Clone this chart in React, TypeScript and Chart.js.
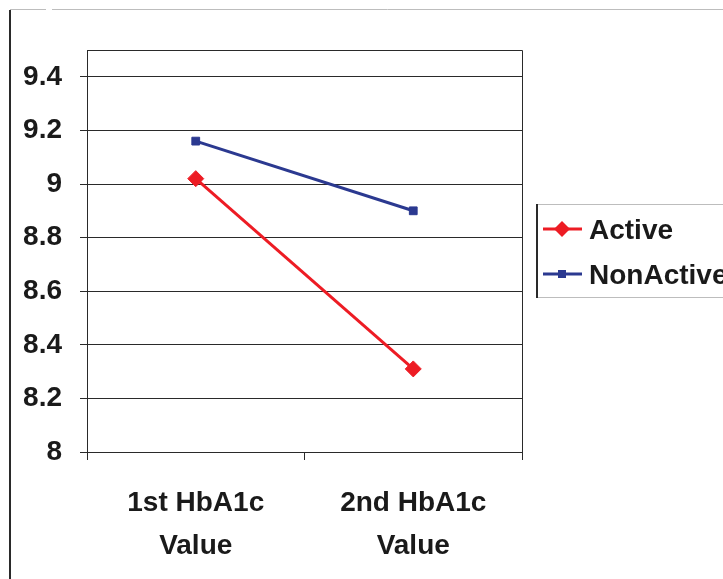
import React, { useEffect, useRef } from "react";
import { Chart, registerables } from "chart.js";

Chart.register(...registerables);

const categories: string[][] = [["1st HbA1c", "Value"], ["2nd HbA1c", "Value"]];
const activeValues: number[] = [9.02, 8.31];
const nonActiveValues: number[] = [9.16, 8.9];
const seriesNames: string[] = ["Active", "NonActive"];
const yMin = 8;
const yMax = 9.5;
const yStep = 0.2;

const FONT_FAMILY = '"Liberation Sans", Arial, sans-serif';
const FONT_SIZE = 28;
const RED = "#ED1C24";
const BLUE = "#2B3990";
const DARK = "#2a2a2a";

const framePlugin = {
  id: "framePlugin",
  afterDraw(chart: any) {
    const ctx = chart.ctx as CanvasRenderingContext2D;
    const a = chart.chartArea;
    ctx.save();
    // plot area border (top and right)
    ctx.strokeStyle = DARK;
    ctx.lineWidth = 1;
    ctx.beginPath();
    ctx.moveTo(Math.round(a.left) + 0.5, Math.round(a.top) + 0.5);
    ctx.lineTo(Math.round(a.right) + 0.5, Math.round(a.top) + 0.5);
    ctx.lineTo(Math.round(a.right) + 0.5, Math.round(a.bottom) + 0.5);
    ctx.stroke();

    // outer frame
    ctx.strokeStyle = "#bdbdbd";
    ctx.beginPath();
    ctx.moveTo(10, 9.5);
    ctx.lineTo(46, 9.5);
    ctx.moveTo(52, 9.5);
    ctx.lineTo(723, 9.5);
    ctx.stroke();
    ctx.strokeStyle = DARK;
    ctx.lineWidth = 2;
    ctx.beginPath();
    ctx.moveTo(10, 10);
    ctx.lineTo(10, 579);
    ctx.stroke();

    // legend box
    const lx = 537;
    const ly = 204;
    const lb = 297;
    ctx.strokeStyle = "#bdbdbd";
    ctx.lineWidth = 1;
    ctx.beginPath();
    ctx.moveTo(lx, ly + 0.5);
    ctx.lineTo(723, ly + 0.5);
    ctx.moveTo(lx, lb + 0.5);
    ctx.lineTo(723, lb + 0.5);
    ctx.stroke();
    ctx.strokeStyle = DARK;
    ctx.lineWidth = 2;
    ctx.beginPath();
    ctx.moveTo(lx, ly);
    ctx.lineTo(lx, lb + 1);
    ctx.stroke();

    const items = [
      { name: seriesNames[0], color: RED, y: 229, style: "diamond" },
      { name: seriesNames[1], color: BLUE, y: 274, style: "square" },
    ];
    for (const it of items) {
      ctx.strokeStyle = it.color;
      ctx.fillStyle = it.color;
      ctx.lineWidth = 3;
      ctx.beginPath();
      ctx.moveTo(543, it.y);
      ctx.lineTo(582, it.y);
      ctx.stroke();
      if (it.style === "diamond") {
        ctx.beginPath();
        ctx.moveTo(562, it.y - 8);
        ctx.lineTo(570, it.y);
        ctx.lineTo(562, it.y + 8);
        ctx.lineTo(554, it.y);
        ctx.closePath();
        ctx.fill();
      } else {
        ctx.fillRect(558, it.y - 4, 8, 8);
      }
      ctx.fillStyle = "#1a1a1a";
      ctx.font = `bold ${FONT_SIZE}px ${FONT_FAMILY}`;
      ctx.textAlign = "left";
      ctx.textBaseline = "middle";
      ctx.fillText(it.name, 589, it.y + 2);
    }
    ctx.restore();
  },
};

export default function App() {
  const canvasRef = useRef<HTMLCanvasElement | null>(null);

  useEffect(() => {
    const canvas = canvasRef.current;
    if (!canvas) return;
    const chart = new Chart(canvas, {
      type: "line",
      data: {
        labels: categories as any,
        datasets: [
          {
            label: seriesNames[0],
            data: activeValues,
            borderColor: RED,
            backgroundColor: RED,
            borderWidth: 3,
            pointStyle: "rectRot",
            pointRadius: 8,
            pointBorderWidth: 1,
            pointBackgroundColor: RED,
            pointBorderColor: RED,
            tension: 0,
          },
          {
            label: seriesNames[1],
            data: nonActiveValues,
            borderColor: BLUE,
            backgroundColor: BLUE,
            borderWidth: 3,
            pointStyle: "rect",
            pointRadius: 5.5,
            pointBorderWidth: 1,
            pointBackgroundColor: BLUE,
            pointBorderColor: BLUE,
            tension: 0,
          },
        ],
      },
      options: {
        animation: false,
        responsive: false,
        devicePixelRatio: 1,
        layout: { padding: { top: 50, right: 201, left: 0, bottom: 0 } },
        plugins: {
          legend: { display: false },
          tooltip: { enabled: false },
        },
        scales: {
          x: {
            type: "category",
            offset: true,
            grid: {
              offset: true,
              drawOnChartArea: false,
              drawTicks: true,
              tickLength: 8,
              color: DARK,
            },
            border: { display: true, color: DARK, width: 1 },
            ticks: {
              color: "#1a1a1a",
              font: { family: FONT_FAMILY, size: FONT_SIZE, weight: "bold", lineHeight: 1.54 },
              padding: 22,
              maxRotation: 0,
              autoSkip: false,
            },
            afterFit: (scale: any) => {
              scale.height = 127;
            },
          },
          y: {
            type: "linear",
            min: yMin,
            max: yMax,
            grid: {
              color: DARK,
              drawTicks: true,
              tickLength: 7,
            },
            border: { display: true, color: DARK, width: 1 },
            ticks: {
              stepSize: yStep,
              includeBounds: false,
              color: "#1a1a1a",
              font: { family: FONT_FAMILY, size: FONT_SIZE, weight: "bold" },
              padding: 18,
              callback: (v: any) => String(Number(Number(v).toFixed(1))),
            },
            afterFit: (scale: any) => {
              scale.width = 87;
            },
          },
        },
      },
      plugins: [framePlugin],
    } as any);
    return () => chart.destroy();
  }, []);

  return (
    <div style={{ position: "absolute", left: 0, top: 0, width: 723, height: 579, background: "#fff" }}>
      <canvas ref={canvasRef} width={723} height={579} style={{ display: "block" }} />
    </div>
  );
}
